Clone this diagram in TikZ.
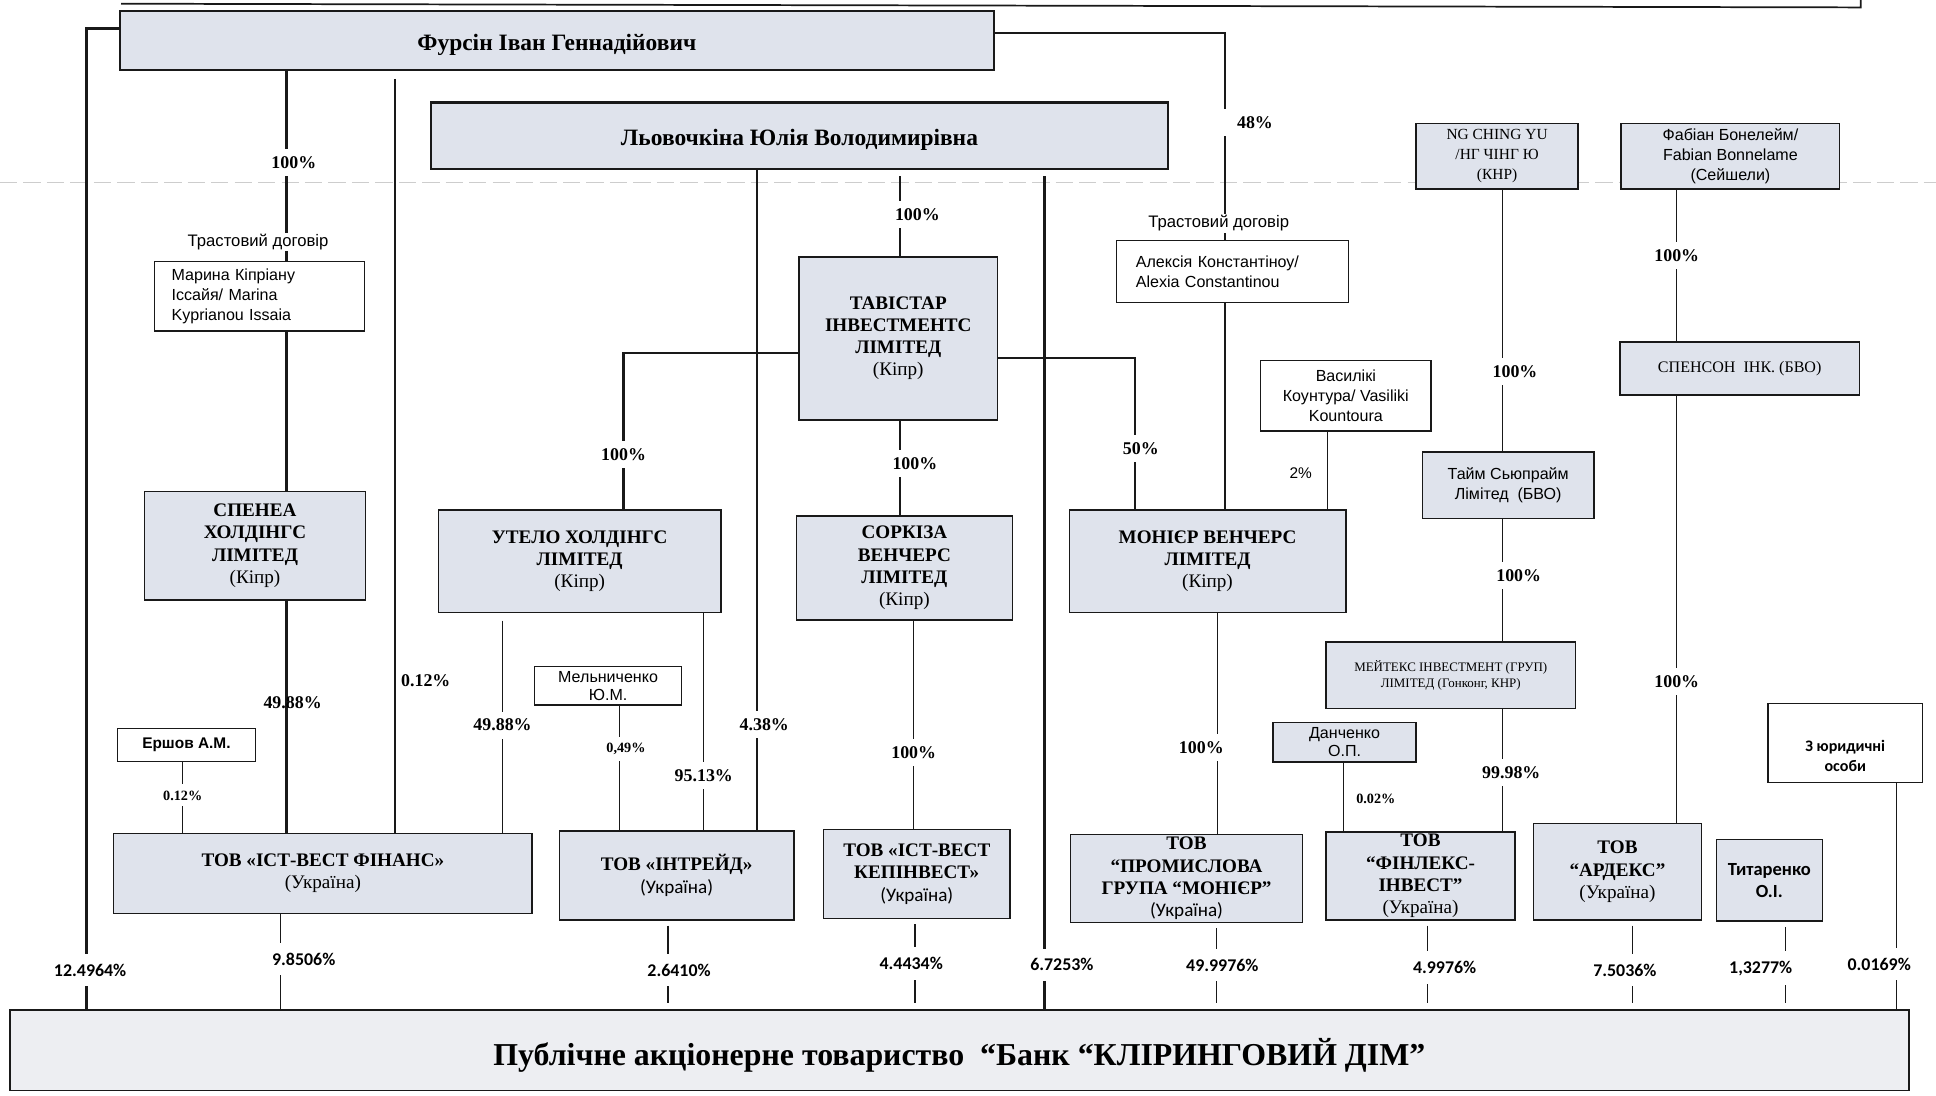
\documentclass[tikz,border=0pt]{standalone}
\usepackage{fontspec}
\setmainfont{Liberation Serif}
\setsansfont{Liberation Sans}
\newfontfamily\calib{Carlito}
\usepackage{tikz}
\definecolor{steelmist}{RGB}{223, 227, 236}
\definecolor{bankmist}{RGB}{237, 238, 242}
\definecolor{inkline}{RGB}{25, 25, 25}
\definecolor{scanfold}{RGB}{205, 205, 205}
\newcommand{\fsz}[2]{\fontsize{#1}{#2}\selectfont}

\tikzset{
  firm/.style 2 args={draw=inkline, fill=steelmist, line width=1.2pt, minimum width=#1, minimum height=#2,
                      inner sep=0pt, align=center, font=\bfseries\fsz{15.5}{18}},
  owner/.style 2 args={draw=inkline, fill=white, line width=1pt, minimum width=#1, minimum height=#2,
                      inner sep=0pt, align=center, font=\sffamily\fsz{13}{16.5}},
  heavy/.style={draw=inkline, line width=1.8pt},
  link/.style={draw=inkline, line width=1pt},
  stub/.style={link, shorten <=4pt, shorten >=5pt},
  pct/.style={fill=white, inner xsep=1pt, inner ysep=6pt, font=\bfseries\fsz{14.5}{16}},
  pctc/.style={fill=white, inner xsep=1pt, inner ysep=8pt, font=\calib\bfseries\fsz{14.5}{16}},
  smallpct/.style={fill=white, inner xsep=1pt, inner ysep=5pt, font=\bfseries\fsz{11.5}{13}},
  trust/.style={fill=white, inner sep=1pt, font=\sffamily\fsz{13.5}{16}},
}

\begin{document}
\begin{tikzpicture}[x=1pt, y=-1pt]
        \useasboundingbox (0,0) rectangle (1568,887);
        \draw[scanfold, line width=1pt, dash pattern=on 14pt off 5pt] (0,148) -- (1568,148);
        \draw[heavy, line width=1.4pt] (98,3) -- (1507,6) -- (1507,0);

        % owners and companies
        \node[firm={708pt}{48pt}, line width=1.8pt, font=\bfseries\fsz{19}{22}, text height=20pt, text depth=4pt]  (furs) at (451,33) {Фурсін Іван Геннадійович};
        \node[firm={597pt}{54pt}, line width=1.8pt, font=\bfseries\fsz{19}{22}, text height=20pt, text depth=4pt]  (lyov) at (647.5,110) {Льовочкіна Юлія Володимирівна};
        \node[owner={170pt}{56pt}, align=left, text width=142pt]                 (marina)  at (210,240)    {Марина Кіпріану\\Іссайя/ Marina\\Kyprianou Issaia};
        \node[owner={188pt}{50pt}, align=left, text width=156pt]                 (alexia)  at (998,220)    {Алексія Константіноу/\\Alexia Constantinou};
        \node[owner={138pt}{57pt}, font=\sffamily\fsz{13}{16}]                   (vasil)   at (1090,320.5) {Василікі\\Коунтура/ Vasiliki\\Kountoura};
        \node[owner={119pt}{31pt}, font=\sffamily\fsz{13}{14.5}]                 (melnich) at (492.5,555.5){Мельниченко\\Ю.М.};
        \node[owner={112pt}{27pt}, font=\sffamily\bfseries\fsz{12.5}{15}]        (ershov)  at (151,603.5)  {Ершов А.М.};
        \node[owner={125pt}{64pt}, font=\calib\bfseries\fsz{13}{16}]             (jur)     at (1494.5,602) {\rule{0pt}{30pt}З юридичні\\особи};

        \node[firm={179pt}{88pt}]                                (spenea)  at (206.5,442)  {СПЕНЕА\\ХОЛДІНГС\\ЛІМІТЕД\\{\mdseries (Кіпр)}};
        \node[firm={229pt}{83pt}]                                (utelo)   at (469.5,454.5){УТЕЛО ХОЛДІНГС\\ЛІМІТЕД\\{\mdseries (Кіпр)}};
        \node[firm={161pt}{132pt}]                               (tav)     at (727.5,274)  {ТАВІСТАР\\ІНВЕСТМЕНТС\\ЛІМІТЕД\\{\mdseries (Кіпр)}};
        \node[firm={175pt}{84pt}]                                (sorkiza) at (732.5,460)  {СОРКІЗА\\ВЕНЧЕРС\\ЛІМІТЕД\\{\mdseries (Кіпр)}};
        \node[firm={224pt}{83pt}]                                (monier)  at (978,454.5)  {МОНІЄР ВЕНЧЕРС\\ЛІМІТЕД\\{\mdseries (Кіпр)}};
        \node[firm={131pt}{53pt}, font=\fsz{12.5}{16}]           (ng)      at (1212.5,126.5){NG CHING YU\\/НГ ЧІНГ Ю\\(КНР)};
        \node[firm={177pt}{53pt}, font=\sffamily\fsz{13}{16}]    (fab)     at (1401.5,126.5){Фабіан Бонелейм/\\Fabian Bonnelame\\(Сейшели)};
        \node[firm={194pt}{43pt}, font=\fsz{13}{16}]             (spenson) at (1409,298.5) {СПЕНСОН~~ІНК. (БВО)};
        \node[firm={139pt}{54pt}, font=\sffamily\fsz{13}{16}]    (taim)    at (1221.5,393) {Тайм Сьюпрайм\\Лімітед~~(БВО)};
        \node[firm={202pt}{54pt}, font=\fsz{10.5}{13.5}]         (meyteks) at (1175,547)   {МЕЙТЕКС ІНВЕСТМЕНТ (ГРУП)\\ЛІМІТЕД (Гонконг, КНР)};
        \node[firm={116pt}{32pt}, font=\sffamily\fsz{13}{15}]    (danch)   at (1089,601)   {Данченко\\О.П.};

        \node[firm={339pt}{65pt}]                                (istfin)  at (261.5,707.5){ТОВ «ІСТ-ВЕСТ ФІНАНС»\\{\mdseries (Україна)}};
        \node[firm={190pt}{72pt}]                                (intrade) at (548,709)    {ТОВ «ІНТРЕЙД»\\{\calib\mdseries (Україна)}};
        \node[firm={151pt}{72pt}]                                (istcap)  at (742.5,708)  {ТОВ «ІСТ-ВЕСТ\\КЕПІНВЕСТ»\\{\calib\mdseries (Україна)}};
        \node[firm={188pt}{71pt}]                                (promgr)  at (961,711.5)  {ТОВ\\“ПРОМИСЛОВА\\ГРУПА “МОНІЄР”\\{\calib\mdseries (Україна)}};
        \node[firm={153pt}{71pt}]                                (finleks) at (1150.5,709.5){ТОВ\\“ФІНЛЕКС-\\ІНВЕСТ”\\{\mdseries (Україна)}};
        \node[firm={136pt}{78pt}]                                (ardeks)  at (1310,706)   {ТОВ\\“АРДЕКС”\\{\mdseries (Україна)}};
        \node[firm={86pt}{66pt}, font=\calib\bfseries\fsz{15}{18}] (titar) at (1433,713)   {Титаренко\\О.І.};
        \node[firm={1538pt}{65pt}, fill=bankmist, font=\bfseries\fsz{25.8}{28}, text height=30pt, text depth=5pt] (bank) at (777,850.5)
             {Публічне акціонерне товариство~~“Банк “КЛІРИНГОВИЙ ДІМ”};

        % bends and columns
        \coordinate (fl) at (70,23);   \coordinate (fr) at (992,27);
        \coordinate (tl) at (505,286); \coordinate (tr) at (919,290);
        \coordinate (cA) at (232,0);   \coordinate (cB) at (320,0);   \coordinate (cD) at (613,0);
        \coordinate (cE) at (729,0);   \coordinate (cF) at (846,0);   \coordinate (cG) at (407,0);
        \coordinate (cH) at (570,0);   \coordinate (cI) at (502,0);   \coordinate (cJ) at (740,0);
        \coordinate (cK) at (986,0);   \coordinate (cL) at (1075,0);  \coordinate (cM) at (1217,0);
        \coordinate (cN) at (1088,0);  \coordinate (cO) at (1358,0);  \coordinate (cP) at (148,0);
        \coordinate (cQ) at (1536,0);
        \coordinate (b1) at (227,0);   \coordinate (b2) at (541,0);   \coordinate (b3) at (741,0);
        \coordinate (b4) at (985,0);   \coordinate (b5) at (1156,0);  \coordinate (b6) at (1322,0);
        \coordinate (b7) at (1446,0);

        % Фурсін
        \draw[heavy] (furs.west |- fl) -- (fl) -- node[pctc, pos=0.96, xshift=3pt] {12.4964\%} (fl |- bank.north);
        \draw[heavy] (furs.south -| cA) -- node[pct, pos=0.48, xshift=6pt] {100\%} (marina.north -| cA);
        \draw[heavy] (marina.south -| cA) -- (spenea.north -| cA);
        \draw[heavy] (spenea.south -| cA) -- node[pct, fill=none, pos=0.44, xshift=5pt] {49.88\%} (istfin.north -| cA);
        \draw[heavy, shorten <=6pt] (furs.south -| cB) -- node[pct, fill=none, inner sep=0pt, pos=0.8, right=4pt] {0.12\%} (istfin.north -| cB);
        \draw[heavy] (furs.east |- fr) -- (fr) -- node[pct, pos=0.43, anchor=west, xshift=-4pt] {\hspace*{12pt}48\%} (fr |- alexia.north);
        \draw[heavy] (alexia.south -| fr) -- (monier.north -| fr);

        % Льовочкіна
        \draw[heavy] (lyov.south -| cD) -- node[pct, pos=0.84, xshift=6pt] {4.38\%} (intrade.north -| cD);
        \draw[heavy, shorten <=5pt] (lyov.south -| cE) -- node[pct, pos=0.52, xshift=14pt] {100\%} (tav.north -| cE);
        \draw[heavy, shorten <=5pt] (lyov.south -| cF) -- node[pctc, pos=0.947, xshift=14pt] {6.7253\%} (bank.north -| cF);

        % Тавістар
        \draw[heavy] (tav.west |- tl) -- (tl) -- node[pct, pos=0.65] {100\%} (tl |- utelo.north);
        \draw[link] (tav.south -| cE) -- node[pct, pos=0.45, xshift=12pt] {100\%} (sorkiza.north -| cE);
        \draw[heavy] (tav.east |- tr) -- (tr) -- node[pct, pos=0.6, xshift=5pt] {50\%} (tr |- monier.north);

        \draw[link, shorten <=6pt] (utelo.south -| cG) -- node[pct, pos=0.51] {49.88\%} (istfin.north -| cG);
        \draw[link] (utelo.south -| cH) -- node[pct, pos=0.75] {95.13\%} (intrade.north -| cH);
        \draw[link] (melnich.south -| cI) -- node[smallpct, pos=0.35, xshift=5pt] {0,49\%} (intrade.north -| cI);
        \draw[link] (sorkiza.south -| cJ) -- node[pct, pos=0.635] {100\%} (istcap.north -| cJ);
        \draw[link] (monier.south -| cK) -- node[pct, pos=0.61, xshift=-13pt] {100\%} (promgr.north -| cK);
        \draw[link] (vasil.south -| cL) -- node[pos=0.53, left=12pt, inner sep=0pt, font=\sffamily\fsz{12.5}{14}] {2\%} (monier.north -| cL);
        \draw[link] (ng.south -| cM) -- node[pct, pos=0.695, xshift=10pt] {100\%} (taim.north -| cM);
        \draw[link] (taim.south -| cM) -- node[pct, pos=0.46, xshift=13pt] {100\%} (meyteks.north -| cM);
        \draw[link] (meyteks.south -| cM) -- node[pct, pos=0.52, xshift=7pt] {99.98\%} (finleks.north -| cM);
        \draw[link] (danch.south -| cN) -- node[smallpct, fill=none, inner sep=0pt, pos=0.53, right=10pt] {0.02\%} (finleks.north -| cN);
        \draw[link] (fab.south -| cO) -- node[pct, pos=0.435] {100\%} (spenson.north -| cO);
        \draw[link] (spenson.south -| cO) -- node[pct, pos=0.67] {100\%} (ardeks.north -| cO);
        \draw[link] (ershov.south -| cP) -- node[smallpct, pos=0.47] {0.12\%} (istfin.north -| cP);
        \draw[link] (jur.south -| cQ) -- node[pctc, pos=0.8, xshift=-14pt] {0.0169\%} (bank.north -| cQ);

        % into the bank
        \draw[link] (istfin.south -| b1) -- node[pctc, pos=0.47, xshift=19pt] {9.8506\%} (bank.north -| b1);
        \draw[stub] (intrade.south -| b2) -- node[pctc, pos=0.56, xshift=9pt] {2.6410\%} (bank.north -| b2);
        \draw[stub] (istcap.south -| b3) -- node[pctc, pos=0.49, xshift=-3pt] {4.4434\%} (bank.north -| b3);
        \draw[stub] (promgr.south -| b4) -- node[pctc, pos=0.49, xshift=5pt] {49.9976\%} (bank.north -| b4);
        \draw[stub] (finleks.south -| b5) -- node[pctc, pos=0.53, xshift=14pt] {4.9976\%} (bank.north -| b5);
        \draw[stub] (ardeks.south -| b6) -- node[pctc, pos=0.56, xshift=-6pt] {7.5036\%} (bank.north -| b6);
        \draw[stub] (titar.south -| b7) -- node[pctc, pos=0.53, xshift=-20pt] {1,3277\%} (bank.north -| b7);

        \node[trust] (trustA) at (209,196) {Трастовий договір};
        \node[trust] (trustB) at (987,181) {Трастовий договір};
\end{tikzpicture}
\end{document}
